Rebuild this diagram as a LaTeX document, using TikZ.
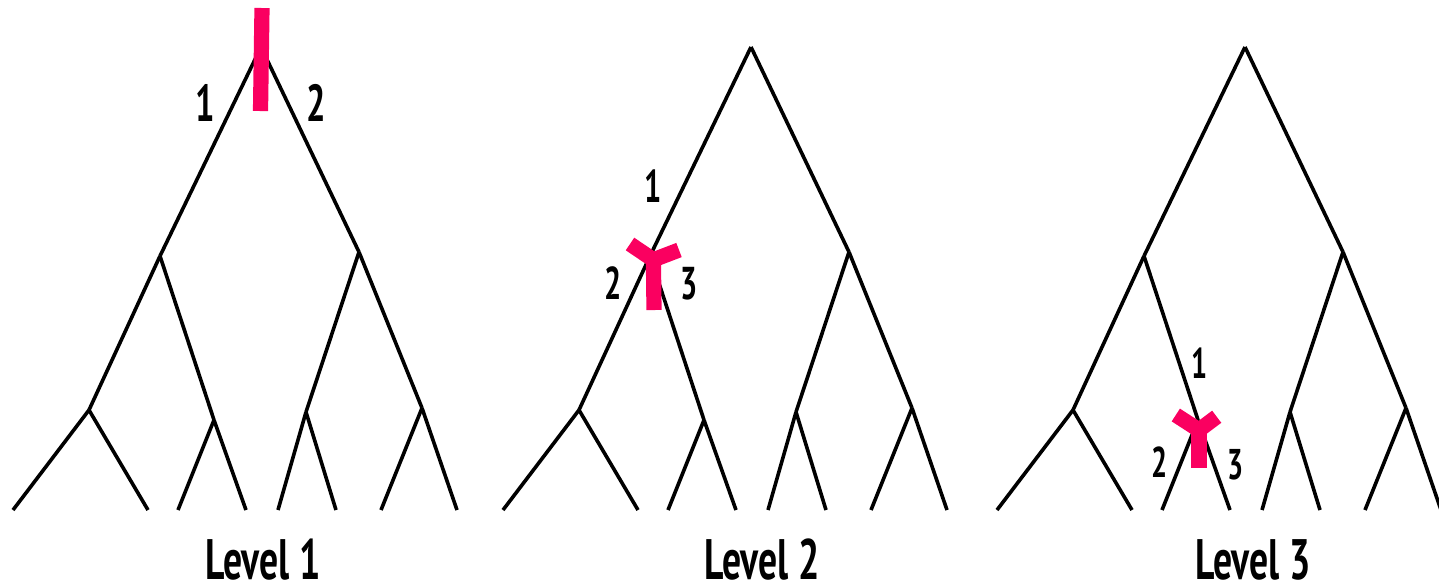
\documentclass[tikz,border=0pt]{standalone}
\usepackage{fontspec}
\setmainfont{PT Sans}[FakeStretch=0.66]
\definecolor{cutpink}{HTML}{FA0060}
\newlength{\BranchWidth}
\newlength{\CutWidth}
\setlength{\BranchWidth}{1.8pt}
\setlength{\CutWidth}{7.6pt}
\tikzset{
  branch/.style={line width=\BranchWidth},
  cut mark/.style={draw=cutpink, line width=\CutWidth},
  edge num/.style={inner sep=0pt},
  level name/.style={inner sep=0pt, font=\bfseries\fontsize{28.5}{28.5}\selectfont},
}

\begin{document}
\begin{tikzpicture}[x=0.5pt, y=-0.5pt]
  \clip (0,0) rectangle (1439,586);

  % the same tree three times
  \foreach \sx/\t in {261/1, 751/2, 1245/3} {
    \begin{scope}[shift={(\sx,0)}]
      \coordinate (t\t r)  at (0,47);
      \coordinate (t\t a)  at (-101,256);
      \coordinate (t\t b)  at (98,252);
      \coordinate (t\t aa) at (-172,410);
      \coordinate (t\t ab) at (-47,420);
      \coordinate (t\t ba) at (45,412);
      \coordinate (t\t bb) at (161,408);
      \coordinate (t\t p1) at (-248,510);
      \coordinate (t\t p2) at (-113,510);
      \coordinate (t\t p3) at (-83,510);
      \coordinate (t\t p4) at (-15,510);
      \coordinate (t\t p5) at (17,510);
      \coordinate (t\t p6) at (75,510);
      \coordinate (t\t p7) at (120,510);
      \coordinate (t\t p8) at (196,510);
      \foreach \u/\v in {r/a, r/b, a/aa, a/ab, b/ba, b/bb,
                         aa/p1, aa/p2, ab/p3, ab/p4, ba/p5, ba/p6, bb/p7, bb/p8}
        \draw[branch] (t\t\u) -- (t\t\v);
    \end{scope}
  }

  % level 1: cut at the root
  \begin{scope}[shift={(t1r)}]
    \draw[cut mark] (1,-39) -- (-0.5,64);
  \end{scope}
  \node[edge num, font=\bfseries\fontsize{26}{26}\selectfont] (n11) at (205,103) {1};
  \node[edge num, font=\bfseries\fontsize{26}{26}\selectfont] (n12) at (316,103) {2};
  \node[level name] (lv1) at (263,560) {Level 1};

  % level 2: three-way cut below the left child
  \begin{scope}[shift={(t2a)}]
    \draw[cut mark] (-20,-12) -- (3.4,3.8) -- (29,-6);
    \draw[cut mark] (3.4,3.8) -- (4,54);
  \end{scope}
  \node[edge num, font=\bfseries\fontsize{23}{23}\selectfont] (n21) at (653,186) {1};
  \node[edge num, font=\bfseries\fontsize{23}{23}\selectfont] (n22) at (613,283) {2};
  \node[edge num, font=\bfseries\fontsize{23}{23}\selectfont] (n23) at (689,284) {3};
  \node[level name] (lv2) at (762,560) {Level 2};

  % level 3: three-way cut one level lower
  \begin{scope}[shift={(t3ab)}]
    \draw[cut mark] (-22.2,-5) -- (1,10) -- (18.7,-3.3);
    \draw[cut mark] (1,10) -- (1,48);
  \end{scope}
  \node[edge num, font=\bfseries\fontsize{21.5}{21.5}\selectfont] (n31) at (1200,363) {1};
  \node[edge num, font=\bfseries\fontsize{21.5}{21.5}\selectfont] (n32) at (1160,462) {2};
  \node[edge num, font=\bfseries\fontsize{21.5}{21.5}\selectfont] (n33) at (1236,465) {3};
  \node[level name] (lv3) at (1253,560) {Level 3};
\end{tikzpicture}
\end{document}
